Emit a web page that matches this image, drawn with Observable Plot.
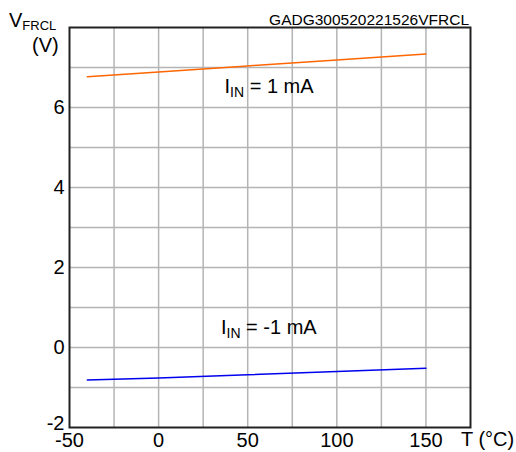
<!DOCTYPE html>
<html>
<head>
<meta charset="utf-8">
<script src="https://cdn.jsdelivr.net/npm/d3@7"></script>
<script src="https://cdn.jsdelivr.net/npm/@observablehq/plot@0.6"></script>
<style>
  html, body { margin: 0; padding: 0; background: #fff; }
</style>
</head>
<body>
<div id="chart"></div>
<script>
const temps = [-40, 0, 50, 100, 150];
const vPos = [6.77, 6.89, 7.04, 7.19, 7.34];
const vNeg = [-0.81, -0.76, -0.68, -0.60, -0.52];
const xTicks = [-50, 0, 50, 100, 150];
const yTicks = [-2, 0, 2, 4, 6];
const xGrid = [-25, 0, 25, 50, 75, 100, 125, 150];
const yGrid = [-1, 0, 1, 2, 3, 4, 5, 6, 7];
const annots = [
  {x: 37, y: 6.375, main: "I", sub: "IN", rest: " = 1 mA"},
  {x: 35, y: 0.35, main: "I", sub: "IN", rest: " = -1 mA"}
];
const chartTitle = "GADG300520221526VFRCL";

const rows = [
  ...temps.map((t, i) => ({t, v: vPos[i], s: "pos"})),
  ...temps.map((t, i) => ({t, v: vNeg[i], s: "neg"}))
];

const svg = Plot.plot({
  width: 516,
  height: 452,
  marginLeft: 69,
  marginTop: 27,
  marginRight: 46,
  marginBottom: 25,
  style: {fontFamily: "Liberation Sans, Arial, sans-serif", fontSize: "20px", color: "#000", background: "#fff"},
  x: {domain: [-50, 175], label: null},
  y: {domain: [-2, 8], label: null},
  marks: [
    Plot.ruleX(xGrid, {stroke: "#b4b4b4", strokeWidth: 1.5}),
    Plot.ruleY(yGrid, {stroke: "#b4b4b4", strokeWidth: 1.5}),
    Plot.axisX({ticks: xTicks, tickSize: 0, tickPadding: 5, tickFormat: d => String(d), label: null, fontSize: 20}),
    Plot.axisY({ticks: yTicks, tickSize: 0, tickPadding: 5, tickFormat: d => String(d), label: null, fontSize: 20}),
    Plot.line(rows.filter(d => d.s === "pos"), {x: "t", y: "v", stroke: "#ff6600", strokeWidth: 1.5}),
    Plot.line(rows.filter(d => d.s === "neg"), {x: "t", y: "v", stroke: "#0000ee", strokeWidth: 1.5}),
    Plot.text(annots, {x: "x", y: "y", text: d => d.main + d.sub + d.rest, textAnchor: "start", lineAnchor: "bottom", fontSize: 20, fill: "#000"}),
    Plot.frame({stroke: "#222", strokeWidth: 2})
  ]
});

const s = d3.select(svg);
s.selectAll("text").each(function() {
  const t = d3.select(this);
  const content = this.textContent;
  const a = annots.find(a => a.main + a.sub + a.rest === content);
  if (a) {
    t.text(null);
    t.append("tspan").text(a.main);
    t.append("tspan").attr("font-size", 14).attr("dy", 4).text(a.sub);
    t.append("tspan").attr("dy", -4).text(a.rest);
  } else if (content === "-2") {
    const tr = t.attr("transform") || "";
    t.attr("transform", tr + " translate(0,-4)");
  }
});

// chart title (top right)
s.append("text").attr("x", 469).attr("y", 25).attr("text-anchor", "end")
  .attr("font-size", 15.5).attr("fill", "#000").text(chartTitle);

// y-axis title
const yt = s.append("text").attr("x", 9).attr("y", 26.5).attr("text-anchor", "start")
  .attr("font-size", 20).attr("fill", "#000");
yt.append("tspan").text("V");
yt.append("tspan").attr("font-size", 13).attr("dy", 3).text("FRCL");
s.append("text").attr("x", 32).attr("y", 52).attr("text-anchor", "start")
  .attr("font-size", 20).attr("fill", "#000").text("(V)");

// x-axis title
s.append("text").attr("x", 461).attr("y", 446).attr("text-anchor", "start")
  .attr("font-size", 20).attr("fill", "#000").text("T (°C)");

document.getElementById("chart").appendChild(svg);
</script>
</body>
</html>
